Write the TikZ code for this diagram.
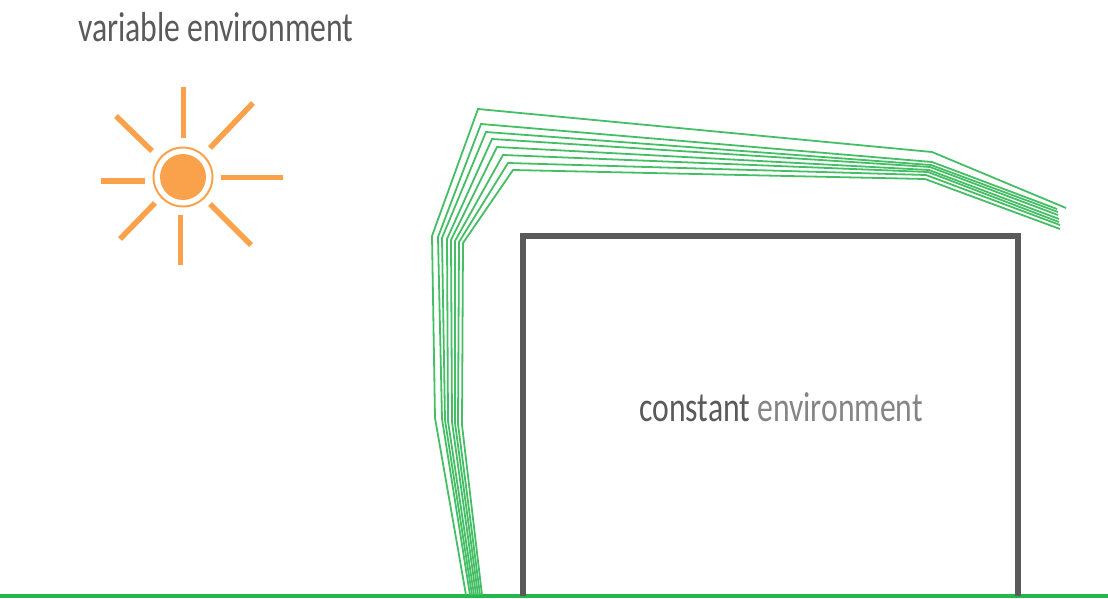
\documentclass[tikz,border=0pt]{standalone}
\usepackage{fontspec}
\setmainfont[FakeStretch=0.755]{Carlito}
\definecolor{sunorange}{HTML}{F9A24B}
\definecolor{leafgreen}{HTML}{45BE65}
\definecolor{groundgreen}{HTML}{22B84A}
\definecolor{boxgray}{HTML}{5A5A5A}
\definecolor{textgray}{HTML}{858585}
\tikzset{
    ray/.style={sunorange, line width=5.5pt},
    stem/.style={leafgreen, line width=1.8pt, line join=miter},
    label/.style={inner sep=0pt, anchor=base west, font=\fontsize{42}{42}\selectfont}
}

\begin{document}
\begin{tikzpicture}[x=1pt,y=-1pt]

\useasboundingbox (0,0) rectangle (1108,598);

% Ground
\draw[groundgreen, line width=4pt] (0,596)--(1108,596);

% Constant box
\draw[boxgray, line width=6pt] (523,596)--(523,235.5)--(1018,235.5)--(1018,596);

% Sun
\fill[sunorange] (183,177) circle (23);
\draw[sunorange, line width=2pt] (183,177) circle (29.5);
\foreach \xa/\ya/\xb/\yb in {183.5/87/183.5/138, 253/103/210/148, 221/177.5/283/177.5,
    210/204/251/245, 180.5/215/180.5/265, 155/203/120/239, 101/181/145/181, 116/116/152/151}
    \draw[ray] (\xa,\ya)--(\xb,\yb);

% Stems
\draw[stem] (466,595)--(435,418)--(432,236)--(478,109)--(932,152)--(1066,208);
\foreach \xa/\xb/\yb/\xc/\yc/\xd/\yd/\xe/\ye/\xf/\yf in {
    470/442/419/438/237/481/124/932/162/1057/209,
    472/445/420/442/238/486/132/931/165/1058/212,
    474/448/421/447/239/492/139/930/167/1058/215,
    476/452/422/451/240/497/147/929/170/1059/219,
    478/455/423/455/241/503/155/928/172/1059/222,
    480/458/424/459/242/508/163/926/175/1060/225,
    482/462/425/463/243/513/170/925/179/1060/229}
    \draw[stem] (\xa,595)--(\xb,\yb)--(\xc,\yc)--(\xd,\yd)--(\xe,\ye)--(\xf,\yf);

% Labels
\node[label, text=boxgray] (variable) at (78,41) {variable environment};
\node[label] (constant) at (639,421) {\textcolor{boxgray}{constant} \textcolor{textgray}{environment}};

\end{tikzpicture}
\end{document}
